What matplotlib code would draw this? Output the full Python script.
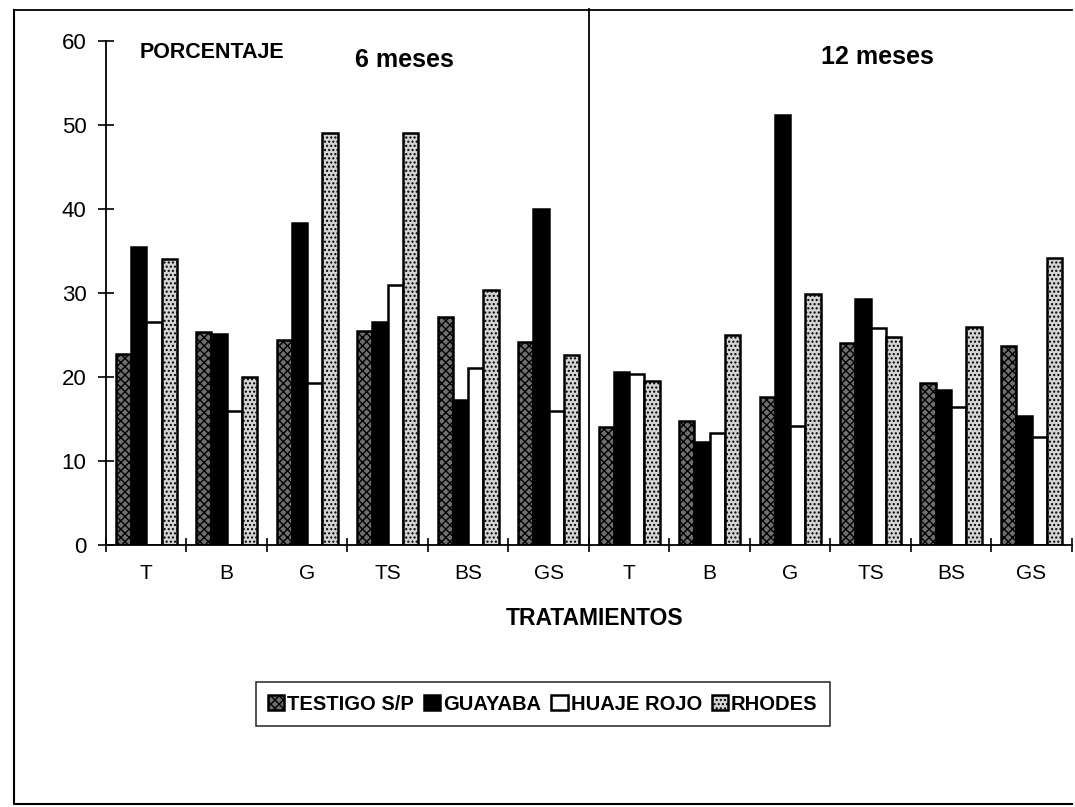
import matplotlib.pyplot as plt
import numpy as np
from matplotlib.lines import Line2D

plt.rcParams['font.family'] = ['Liberation Sans', 'DejaVu Sans']
plt.rcParams['hatch.linewidth'] = 1.0

tratamientos = ['T', 'B', 'G', 'TS', 'BS', 'GS']
etiquetas = tratamientos + tratamientos
series = ['TESTIGO S/P', 'GUAYABA', 'HUAJE ROJO', 'RHODES']

# 6 meses followed by 12 meses
testigo = [22.7, 25.3, 24.4, 25.5, 27.2, 24.2,
           14.1, 14.7, 17.6, 24.0, 19.3, 23.7]
guayaba = [35.5, 25.1, 38.3, 26.6, 17.2, 40.0,
           20.6, 12.3, 51.2, 29.3, 18.4, 15.3]
huaje = [26.5, 16.0, 19.3, 31.0, 21.1, 16.0,
         20.4, 13.3, 14.2, 25.8, 16.4, 12.9]
rhodes = [34.0, 20.0, 49.0, 49.0, 30.3, 22.6,
          19.5, 25.0, 29.9, 24.7, 25.9, 34.2]

estilos = [
    dict(facecolor='#6e6e6e', hatch='xxxx'),
    dict(facecolor='black', hatch=None),
    dict(facecolor='white', hatch=None),
    dict(facecolor='#d4d4d4', hatch='....'),
]

fig = plt.figure(figsize=(10.75, 8.07), dpi=100)
ax = fig.add_axes([0.0986, 0.3247, 0.8984, 0.6245])

x = np.arange(len(etiquetas))
w = 0.19
for i, (vals, st) in enumerate(zip([testigo, guayaba, huaje, rhodes], estilos)):
    ax.bar(x + (i - 1.5) * w, vals, w, color=st['facecolor'], hatch=st['hatch'],
           edgecolor='black', linewidth=1.8, label=series[i])

ax.set_xlim(-0.5, 11.5)
ax.set_ylim(0, 60)
ax.set_yticks(range(0, 61, 10))
ax.tick_params(axis='y', direction='inout', length=12, width=1.2, labelsize=16, pad=8)
ax.set_xticks(np.arange(-0.5, 12, 1.0))
ax.set_xticklabels([])
ax.set_xticks(x, minor=True)
ax.set_xticklabels(etiquetas, minor=True, fontsize=15)
ax.tick_params(axis='x', which='major', direction='inout', length=10, width=1.2)
ax.tick_params(axis='x', which='minor', length=0, pad=14)
for s in ['top', 'right']:
    ax.spines[s].set_visible(False)
ax.spines['left'].set_linewidth(1.3)
ax.spines['bottom'].set_linewidth(1.3)

# divider between the two sampling dates
ax.plot([5.5, 5.5], [0, 63.8], color='black', lw=1.3, clip_on=False)

ax.text(-0.08, 58.6, 'PORCENTAJE', fontsize=15.5, fontweight='bold', va='center')
ax.text(3.21, 57.7, '6 meses', fontsize=18, fontweight='bold', ha='center', va='center')
ax.text(9.09, 58.1, '12 meses', fontsize=18, fontweight='bold', ha='center', va='center')
fig.text(0.553, 0.233, 'TRATAMIENTOS', fontsize=16.5, fontweight='bold',
         ha='center', va='center')

leg = fig.legend(loc='center', bbox_to_anchor=(0.505, 0.1276), ncol=4,
                 prop={'weight': 'bold', 'size': 14.5}, frameon=True, fancybox=False,
                 handlelength=0.8, handleheight=0.8, handletextpad=0.15,
                 columnspacing=0.5, borderpad=0.6)
leg.get_frame().set_edgecolor('black')
leg.get_frame().set_linewidth(1.2)

# page frame
fig.add_artist(Line2D([0.013, 0.013, 0.997], [0.988, 0.004, 0.004], color='black',
                      lw=1.5, transform=fig.transFigure))
fig.add_artist(Line2D([0.013, 0.997], [0.988, 0.988], color='black', lw=1.3,
                      transform=fig.transFigure))

fig.savefig('out.png', dpi=100)
